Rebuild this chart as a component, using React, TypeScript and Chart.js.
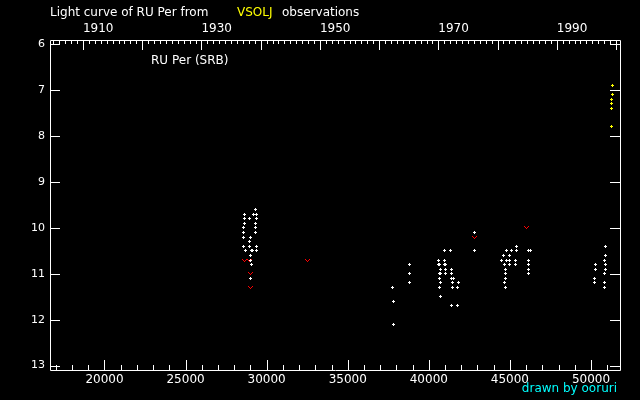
import React, { useEffect, useRef } from "react";
import { Chart, registerables } from "chart.js";

Chart.register(...registerables);

// Visual observations (JD - 2400000, magnitude)
const whiteJD = [
  28557, 28557, 28557, 28557,
  28619, 28619, 28619,
  28681,
  28927, 28927, 28927,
  28989, 28989, 28989, 28989, 28960, 29010,
  29051, 29051, 29110,
  29217,
  29297, 29297, 29297, 29297,
  29359, 29359, 29359, 29359,
  37743, 37805, 37805,
  38791, 38791, 38791,
  40579, 40579, 40641, 40684, 40684, 40703, 40746, 40746, 40641, 40746,
  40949, 40949, 41011, 41011, 41011, 40949,
  41319, 41380, 41380, 41380, 41380, 41442, 41442, 41504, 41750, 41750, 41812,
  42798, 42798,
  44506, 44629, 44648, 44691, 44709, 44709, 44709, 44753, 44771, 44814,
  44999, 44999, 44999, 45079, 45326, 45326, 45387, 45387,
  46127, 46127, 46127, 46152, 46152, 46250,
  50197, 50197, 50259, 50259,
  50814, 50814, 50814, 50857, 50876, 50876, 50876, 50876,
];
const whiteMag = [
  10.0, 10.1, 10.2, 10.4,
  9.7, 9.8, 9.9,
  10.5,
  9.8, 10.3, 10.4,
  10.2, 10.6, 10.7, 11.1, 10.3, 11.1,
  10.5, 10.8, 10.5,
  9.7,
  9.6, 9.9, 10.0, 10.1,
  9.7, 9.8, 10.4, 10.5,
  11.3, 11.6, 12.1,
  10.8, 11.0, 11.2,
  10.7, 10.8, 11.1, 11.0, 11.3, 11.5, 10.9, 11.2, 10.8, 11.0,
  10.5, 10.7, 10.8, 10.9, 11.0, 10.8,
  10.5, 10.9, 11.0, 11.1, 11.7, 11.2, 11.3, 11.1, 11.3, 11.7, 11.2,
  10.1, 10.5,
  10.7, 10.6, 10.8, 11.2, 10.9, 11.1, 11.3, 11.0, 10.5, 10.7,
  10.6, 10.7, 10.8, 10.5, 10.7, 10.8, 10.4, 10.5,
  10.5, 10.7, 10.8, 10.9, 11.0, 10.5,
  11.1, 11.2, 10.8, 10.9,
  11.0, 11.2, 11.3, 10.7, 10.4, 10.6, 10.8, 10.9,
];
// "fainter than" estimates
const limitJD = [28619, 28927, 28989, 28989, 32503, 42798, 46047];
const limitMag = [10.7, 10.7, 11.0, 11.3, 10.7, 10.2, 10.0];
// recent observations
const recentJD = [51307, 51307, 51245, 51245, 51245, 51245];
const recentMag = [6.9, 7.1, 7.2, 7.3, 7.4, 7.8];

const jdTicks = [20000, 25000, 30000, 35000, 40000, 45000, 50000];
const magTicks = [6, 7, 8, 9, 10, 11, 12, 13];
const yearLabels = [1910, 1930, 1950, 1970, 1990];

const JD_MIN = 16640;
const JD_MAX = 51790;
const MAG_MIN = 5.906;
const MAG_MAX = 13.096;
const FONT = "DejaVu Sans";

const jdOfYear = (y: number) => 15020.5 + (y - 1900) * 365.25;
const yearOfJd = (jd: number) => Math.round((jd - 15020.5) / 365.25 + 1900);

function makePlus(color: string) {
  const c = document.createElement("canvas");
  c.width = 3;
  c.height = 3;
  const g = c.getContext("2d")!;
  g.fillStyle = color;
  g.fillRect(0, 1, 3, 1);
  g.fillRect(1, 0, 1, 3);
  return c;
}

function makeV(color: string) {
  const c = document.createElement("canvas");
  c.width = 5;
  c.height = 3;
  const g = c.getContext("2d")!;
  g.fillStyle = color;
  g.fillRect(0, 0, 1, 1);
  g.fillRect(4, 0, 1, 1);
  g.fillRect(1, 1, 1, 1);
  g.fillRect(3, 1, 1, 1);
  g.fillRect(2, 2, 1, 1);
  return c;
}

const crispPlugin = {
  id: "crisp",
  beforeDatasetsDraw(chart: any) {
    chart.ctx.save();
    chart.ctx.imageSmoothingEnabled = false;
  },
  afterDatasetsDraw(chart: any) {
    chart.ctx.restore();
  },
};

const framePlugin = {
  id: "frame",
  afterDraw(chart: any) {
    const { ctx, chartArea: a, scales } = chart;
    const x = scales.x;
    const y = scales.y;
    ctx.save();
    ctx.strokeStyle = "#ffffff";
    ctx.lineWidth = 1;
    ctx.beginPath();
    ctx.rect(Math.round(a.left) + 0.5, Math.round(a.top) + 0.5, Math.round(a.right - a.left), Math.round(a.bottom - a.top));
    // bottom ticks every 1000
    for (let v = 17000; v <= 51000; v += 1000) {
      const px = Math.round(x.getPixelForValue(v)) + 0.5;
      const len = v % 5000 === 0 ? 10 : 5;
      ctx.moveTo(px, a.bottom);
      ctx.lineTo(px, a.bottom - len);
    }
    // top ticks every year
    for (let yr = 1900; yr <= 2000; yr++) {
      const jd = jdOfYear(yr);
      if (jd <= JD_MIN || jd >= JD_MAX) continue;
      const px = Math.round(x.getPixelForValue(jd)) + 0.5;
      const len = yr % 10 === 0 ? 10 : 4;
      ctx.moveTo(px, a.top);
      ctx.lineTo(px, a.top + len);
    }
    // left / right ticks
    for (const m of magTicks) {
      const py = Math.round(y.getPixelForValue(m)) + 0.5;
      ctx.moveTo(a.left, py);
      ctx.lineTo(a.left + 10, py);
      ctx.moveTo(a.right, py);
      ctx.lineTo(a.right - 10, py);
    }
    ctx.stroke();

    ctx.font = `12px "${FONT}"`;
    ctx.textBaseline = "alphabetic";
    ctx.textAlign = "left";
    ctx.fillStyle = "#ffffff";
    ctx.fillText("Light curve of RU Per from", 50, 16);
    ctx.fillStyle = "#ffff00";
    ctx.fillText("VSOLJ", 237, 16);
    ctx.fillStyle = "#ffffff";
    ctx.fillText("observations", 282, 16);
    ctx.fillText("RU Per (SRB)", 151, 64);
    ctx.fillStyle = "#00ffff";
    ctx.textAlign = "right";
    ctx.fillText("drawn by ooruri", 617, 392);
    ctx.restore();
  },
};

const bgPlugin = {
  id: "bg",
  beforeDraw(chart: any) {
    const { ctx, width, height } = chart;
    ctx.save();
    ctx.fillStyle = "#000000";
    ctx.fillRect(0, 0, width, height);
    ctx.restore();
  },
};

export default function App() {
  const ref = useRef<HTMLCanvasElement>(null);

  useEffect(() => {
    document.body.style.margin = "0";
    document.body.style.background = "#000";
    const canvas = ref.current!;
    const xFont = { family: FONT, size: 12 };
    const yFont = { family: FONT, size: 11 };
    const chart = new Chart(canvas, {
      type: "scatter",
      data: {
        datasets: [
          {
            label: "observations",
            data: whiteJD.map((v, i) => ({ x: v, y: whiteMag[i] })),
            pointStyle: makePlus("#ffffff"),
          },
          {
            label: "fainter than",
            data: limitJD.map((v, i) => ({ x: v, y: limitMag[i] })),
            pointStyle: makeV("#ff0000"),
          },
          {
            label: "recent",
            data: recentJD.map((v, i) => ({ x: v, y: recentMag[i] })),
            pointStyle: makePlus("#ffff00"),
          },
        ],
      },
      options: {
        responsive: false,
        animation: false,
        devicePixelRatio: 1,
        layout: { padding: 0 },
        plugins: { legend: { display: false }, tooltip: { enabled: false }, title: { display: false } },
        scales: {
          x: {
            type: "linear",
            position: "bottom",
            min: JD_MIN,
            max: JD_MAX,
            grid: { display: false, drawTicks: false },
            border: { display: false },
            afterBuildTicks: (s: any) => {
              s.ticks = jdTicks.map((v) => ({ value: v }));
            },
            afterFit: (s: any) => {
              s.height = 30;
            },
            ticks: {
              color: "#ffffff",
              font: xFont,
              padding: 3,
              maxRotation: 0,
              autoSkip: false,
              callback: (v: any) => String(v),
            },
          },
          xTop: {
            type: "linear",
            position: "top",
            min: JD_MIN,
            max: JD_MAX,
            grid: { display: false, drawTicks: false },
            border: { display: false },
            afterBuildTicks: (s: any) => {
              s.ticks = yearLabels.map((yr) => ({ value: jdOfYear(yr) }));
            },
            afterFit: (s: any) => {
              s.height = 40;
            },
            ticks: {
              color: "#ffffff",
              font: xFont,
              padding: 4,
              align: "start",
              maxRotation: 0,
              autoSkip: false,
              callback: (v: any) => String(yearOfJd(v)),
            },
          },
          y: {
            type: "linear",
            position: "left",
            reverse: true,
            min: MAG_MIN,
            max: MAG_MAX,
            grid: { display: false, drawTicks: false },
            border: { display: false },
            afterBuildTicks: (s: any) => {
              s.ticks = magTicks.map((v) => ({ value: v }));
            },
            afterFit: (s: any) => {
              s.width = 50;
            },
            ticks: {
              color: "#ffffff",
              font: yFont,
              padding: 5,
              autoSkip: false,
              callback: (v: any) => String(v),
            },
          },
          yRight: {
            type: "linear",
            position: "right",
            reverse: true,
            min: MAG_MIN,
            max: MAG_MAX,
            grid: { display: false, drawTicks: false },
            border: { display: false },
            ticks: { display: false },
            afterFit: (s: any) => {
              s.width = 20;
            },
          },
        },
      },
      plugins: [bgPlugin, crispPlugin, framePlugin],
    } as any);
    return () => chart.destroy();
  }, []);

  return (
    <div style={{ position: "absolute", left: 0, top: 0, width: 640, height: 400, background: "#000" }}>
      <canvas ref={ref} width={640} height={400} style={{ display: "block" }} />
    </div>
  );
}
